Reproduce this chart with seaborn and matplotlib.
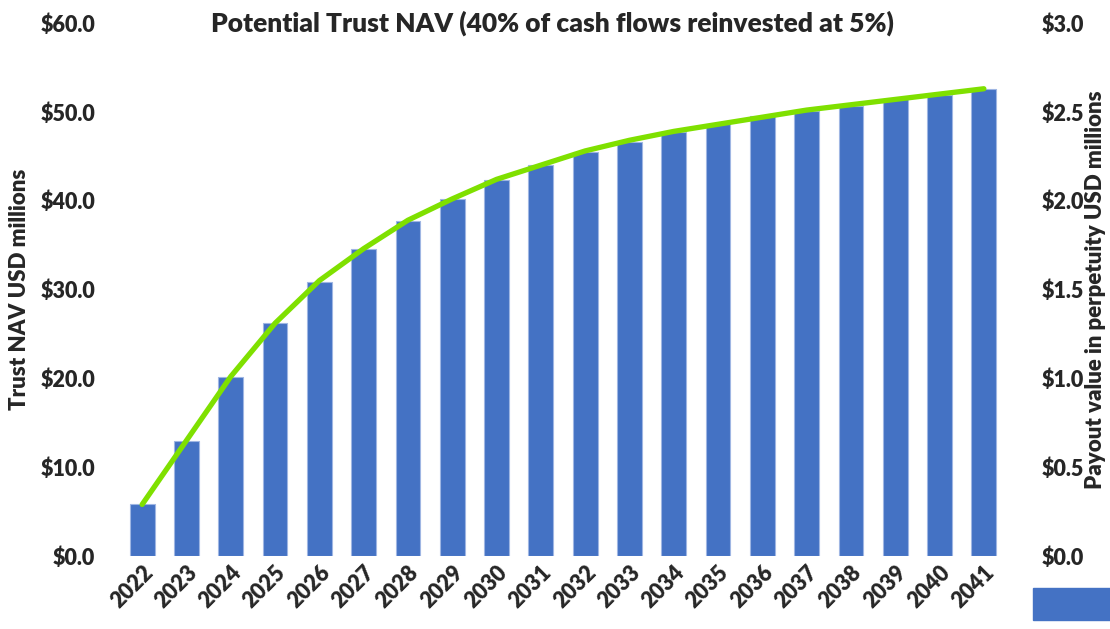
import matplotlib
matplotlib.use("Agg")
import matplotlib.pyplot as plt
from matplotlib.patches import Rectangle
from matplotlib.ticker import FuncFormatter, MultipleLocator
import seaborn as sns
import pandas as pd
import numpy as np

years = [str(y) for y in range(2022, 2042)]
trust_nav = [5.9, 12.9, 20.2, 26.2, 30.9, 34.6, 37.7, 40.2, 42.3, 44.0,
             45.5, 46.6, 47.7, 48.6, 49.5, 50.1, 50.7, 51.4, 51.9, 52.6]
payout = [0.29, 0.65, 1.01, 1.31, 1.55, 1.73, 1.89, 2.01, 2.12, 2.20,
          2.28, 2.34, 2.39, 2.43, 2.47, 2.51, 2.54, 2.57, 2.60, 2.63]

title = "Potential Trust NAV (40% of cash flows reinvested at 5%)"
left_label = "Trust NAV USD millions"
right_label = "Payout value in perpetuity USD millions"

sns.set_theme(style="white")
plt.rcParams['font.family'] = ['Lato', 'DejaVu Sans']
WT = 'heavy'
plt.rcParams['font.weight'] = WT

W, H = 1110, 629
fig = plt.figure(figsize=(W / 100, H / 100), dpi=100)
ax = fig.add_axes([120 / W, (H - 556) / H, 886 / W, 533 / H])

df = pd.DataFrame({"year": years, "nav": trust_nav})
sns.barplot(data=df, x="year", y="nav", color="#4472C4", saturation=1,
            width=0.56, edgecolor="#9FB6E3", linewidth=0.8, ax=ax)
ax.set_ylim(0, 60)
ax.yaxis.set_major_locator(MultipleLocator(10))
ax.yaxis.set_major_formatter(FuncFormatter(lambda v, p: f"${v:.1f}"))
ax.set_xlim(-0.5, len(years) - 0.5)
ax.set_xlabel("")
ax.set_ylabel(left_label, fontsize=16, fontweight=WT)
ax.yaxis.set_label_coords(-0.102, 0.5)
ax.tick_params(axis='y', labelsize=15.5, length=0, pad=18)
ax.tick_params(axis='x', labelsize=15.5, length=0, pad=4)
for lab in ax.get_xticklabels():
    lab.set_rotation(45)
    lab.set_ha('right')
    lab.set_rotation_mode('anchor')
    lab.set_fontweight(WT)
for lab in ax.get_yticklabels():
    lab.set_fontweight(WT)

ax2 = ax.twinx()
sns.lineplot(x=np.arange(len(years)), y=payout, color="#7FE000", linewidth=3.8,
             ax=ax2, solid_capstyle='round', solid_joinstyle='round')
ax2.set_ylim(0, 3.0)
ax2.yaxis.set_major_locator(MultipleLocator(0.5))
ax2.yaxis.set_major_formatter(FuncFormatter(lambda v, p: f"${v:.1f}"))
ax2.tick_params(axis='y', labelsize=15.5, length=0, pad=26)
for lab in ax2.get_yticklabels():
    lab.set_fontweight(WT)
ax2.set_ylabel(right_label, fontsize=16, fontweight=WT, rotation=90)
ax2.yaxis.set_label_coords(1.089, 0.5)

for a in (ax, ax2):
    for s in a.spines.values():
        s.set_visible(False)
    a.grid(False)

fig.text(552 / W, 1 - 23 / H, title, ha='center', va='center',
         fontsize=19, fontweight=WT)

fig.patches.append(Rectangle((1033 / W, (H - 620) / H), 0.2, 32 / H,
                             transform=fig.transFigure, color="#4472C4",
                             figure=fig))

fig.savefig("out.png", dpi=100)
